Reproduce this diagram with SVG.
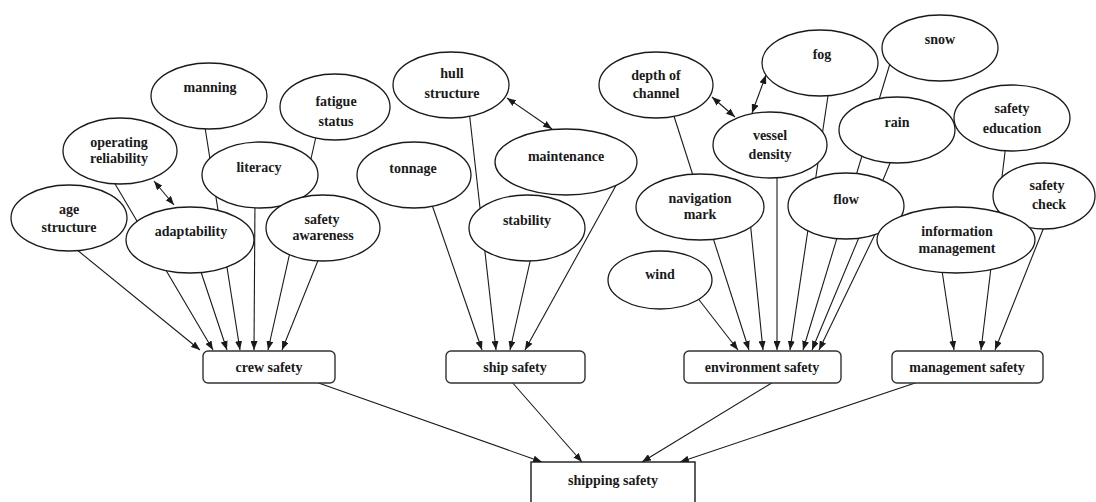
<svg xmlns="http://www.w3.org/2000/svg" width="1096" height="502" viewBox="0 0 1096 502">
<style>
  .n ellipse{fill:#fff;stroke:#1a1a1a;stroke-width:1.3}
  .b rect{fill:#fff;stroke:#333;stroke-width:1.4}
  text{font-family:'Liberation Serif','Times New Roman','DejaVu Serif',serif;font-weight:bold;font-size:14px;fill:#1a1a1a;text-anchor:middle;dominant-baseline:central}
  .e line{stroke:#1a1a1a;stroke-width:1.1;marker-end:url(#ah)}
  .e line.d{marker-start:url(#ahs)}
</style>
<defs>
  <marker id="ah" viewBox="0 0 9 7" refX="9" refY="3.5" markerWidth="9" markerHeight="7" orient="auto" markerUnits="userSpaceOnUse"><path d="M0,0 L9,3.5 L0,7 z" fill="#1a1a1a"/></marker>
  <marker id="ahs" viewBox="0 0 9 7" refX="9" refY="3.5" markerWidth="9" markerHeight="7" orient="auto-start-reverse" markerUnits="userSpaceOnUse"><path d="M0,0 L9,3.5 L0,7 z" fill="#1a1a1a"/></marker>
</defs>
<rect width="1096" height="502" fill="#fff"/>
<g id="connectors" class="e">
  <line x1="71" y1="245" x2="200" y2="350"/>
  <line x1="111" y1="177" x2="213" y2="350"/>
  <line x1="198" y1="263" x2="227" y2="350"/>
  <line x1="204" y1="121" x2="240" y2="350"/>
  <line x1="255" y1="198" x2="254" y2="350"/>
  <line x1="317" y1="132" x2="268" y2="350"/>
  <line x1="321" y1="253" x2="282" y2="350"/>
  <line x1="430" y1="199" x2="482" y2="350"/>
  <line x1="469" y1="110" x2="496" y2="350"/>
  <line x1="532" y1="253" x2="510" y2="350"/>
  <line x1="619" y1="180" x2="525" y2="350"/>
  <line x1="693" y1="292" x2="738" y2="350"/>
  <line x1="672" y1="110" x2="749" y2="350"/>
  <line x1="750" y1="220" x2="763" y2="350"/>
  <line x1="777" y1="170" x2="777" y2="350"/>
  <line x1="829" y1="89" x2="790" y2="350"/>
  <line x1="892" y1="57" x2="803" y2="350"/>
  <line x1="893" y1="156" x2="812" y2="350"/>
  <line x1="878" y1="228" x2="819" y2="350"/>
  <line x1="941" y1="264" x2="954" y2="350"/>
  <line x1="1006" y1="144" x2="981" y2="350"/>
  <line x1="1046" y1="222" x2="995" y2="350"/>
  <line x1="313" y1="381" x2="542" y2="462"/>
  <line x1="511" y1="381" x2="582" y2="462"/>
  <line x1="775" y1="381" x2="642" y2="462"/>
  <line x1="924" y1="380" x2="680" y2="462"/>
  <line class="d" x1="154" y1="181" x2="174" y2="205"/>
  <line class="d" x1="507" y1="98" x2="552" y2="129"/>
  <line class="d" x1="712" y1="97" x2="735" y2="117"/>
  <line class="d" x1="752" y1="113" x2="766" y2="75"/>
</g>
<g id="manning" class="n"><ellipse cx="209" cy="96" rx="58" ry="33"/><text x="210" y="87">manning</text></g>
<g id="fatigue-status" class="n"><ellipse cx="335" cy="107" rx="55" ry="33"/><text x="336" y="101">fatigue</text><text x="336" y="121">status</text></g>
<g id="operating-reliability" class="n"><ellipse cx="120" cy="151" rx="57" ry="33"/><text x="119" y="142">operating</text><text x="119" y="158">reliability</text></g>
<g id="literacy" class="n"><ellipse cx="260" cy="175" rx="58" ry="33"/><text x="259" y="167">literacy</text></g>
<g id="age-structure" class="n"><ellipse cx="69" cy="218" rx="58" ry="33"/><text x="69" y="209">age</text><text x="69" y="227">structure</text></g>
<g id="safety-awareness" class="n"><ellipse cx="323" cy="228" rx="57" ry="33"/><text x="322" y="219">safety</text><text x="323" y="235">awareness</text></g>
<g id="adaptability" class="n"><ellipse cx="190" cy="240" rx="64" ry="33"/><text x="191" y="231">adaptability</text></g>
<g id="hull-structure" class="n"><ellipse cx="451" cy="85" rx="58" ry="33"/><text x="452" y="73">hull</text><text x="452" y="93">structure</text></g>
<g id="maintenance" class="n"><ellipse cx="566" cy="162" rx="71" ry="33"/><text x="566" y="156">maintenance</text></g>
<g id="tonnage" class="n"><ellipse cx="414" cy="175" rx="57" ry="33"/><text x="413" y="168">tonnage</text></g>
<g id="stability" class="n"><ellipse cx="527" cy="228" rx="58" ry="33"/><text x="527" y="220">stability</text></g>
<g id="snow" class="n"><ellipse cx="940" cy="48" rx="58" ry="33"/><text x="940" y="39">snow</text></g>
<g id="fog" class="n"><ellipse cx="820" cy="63" rx="58" ry="33"/><text x="822" y="54">fog</text></g>
<g id="depth-of-channel" class="n"><ellipse cx="656" cy="85" rx="57" ry="33"/><text x="656" y="75">depth of</text><text x="656" y="93">channel</text></g>
<g id="safety-education" class="n"><ellipse cx="1012" cy="118" rx="58" ry="33"/><text x="1012" y="108">safety</text><text x="1012" y="128">education</text></g>
<g id="rain" class="n"><ellipse cx="897" cy="130" rx="58" ry="33"/><text x="897" y="122">rain</text></g>
<g id="vessel-density" class="n"><ellipse cx="770" cy="145" rx="57" ry="33"/><text x="770" y="135">vessel</text><text x="770" y="154">density</text></g>
<g id="safety-check" class="n"><ellipse cx="1044" cy="196" rx="51" ry="33"/><text x="1047" y="185">safety</text><text x="1049" y="204">check</text></g>
<g id="navigation-mark" class="n"><ellipse cx="700" cy="207" rx="64" ry="33"/><text x="700" y="198">navigation</text><text x="700" y="214">mark</text></g>
<g id="flow" class="n"><ellipse cx="846" cy="206" rx="58" ry="33"/><text x="846" y="199">flow</text></g>
<g id="information-management" class="n"><ellipse cx="956" cy="240" rx="79" ry="33"/><text x="957" y="231">information</text><text x="957" y="248">management</text></g>
<g id="wind" class="n"><ellipse cx="660" cy="280" rx="52" ry="29"/><text x="660" y="274">wind</text></g>
<g id="crew-safety" class="b"><rect x="203" y="351" width="132" height="32" rx="5"/><text x="269" y="367">crew safety</text></g>
<g id="ship-safety" class="b"><rect x="446" y="351" width="139" height="32" rx="5"/><text x="515" y="367">ship safety</text></g>
<g id="environment-safety" class="b"><rect x="684" y="351" width="157" height="32" rx="5"/><text x="762" y="367">environment safety</text></g>
<g id="management-safety" class="b"><rect x="892" y="351" width="151" height="32" rx="5"/><text x="967" y="367">management safety</text></g>
<g id="shipping-safety"><rect x="531" y="462" width="164" height="60" fill="#fff" stroke="#1a1a1a" stroke-width="1.4"/><text x="613" y="480">shipping safety</text></g>
</svg>
